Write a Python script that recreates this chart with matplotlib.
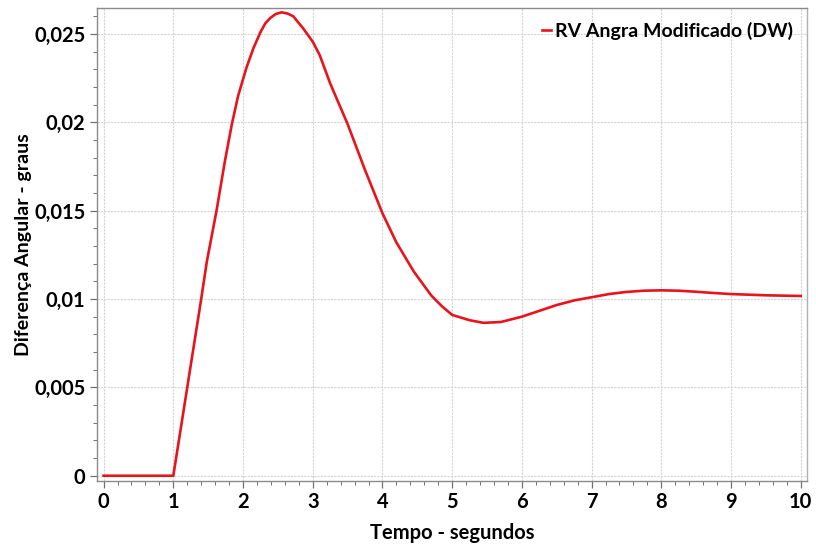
import matplotlib
matplotlib.use('Agg')
import matplotlib.pyplot as plt
from matplotlib.ticker import MultipleLocator, FuncFormatter

# values
tempo = [0.0, 1.0, 1.2, 1.4, 1.48, 1.62, 1.74, 1.84, 1.93, 2.05, 2.15, 2.25,
         2.32, 2.39, 2.47, 2.555, 2.64, 2.72, 2.865, 3.0, 3.1, 3.25, 3.5, 3.75,
         4.0, 4.2, 4.45, 4.7, 4.85, 5.0, 5.25, 5.45, 5.7, 6.0, 6.25, 6.5, 6.75,
         7.0, 7.25, 7.5, 7.75, 8.0, 8.25, 8.5, 8.75, 9.0, 9.5, 10.0]
diferenca = [0.0, 0.0, 0.0050, 0.0100, 0.0121, 0.0150, 0.0178, 0.0199, 0.0215,
             0.0231, 0.0242, 0.0251, 0.0256, 0.0259, 0.02613, 0.02622, 0.02615,
             0.0260, 0.0253, 0.02456, 0.0238, 0.0222, 0.0199, 0.0173, 0.01485,
             0.0132, 0.01155, 0.0102, 0.0096, 0.0091, 0.0088, 0.00865, 0.0087,
             0.0090, 0.00933, 0.00966, 0.00992, 0.0101, 0.01028, 0.0104,
             0.01047, 0.01049, 0.01047, 0.01041, 0.01034, 0.01028, 0.01021,
             0.01017]
serie = 'RV Angra Modificado (DW)'

x_ticks = list(range(0, 11))
y_ticks = [0.0, 0.005, 0.01, 0.015, 0.02, 0.025]

plt.rcParams['font.family'] = ['Lato', 'DejaVu Sans']

fig = plt.figure(figsize=(8.16, 5.46), dpi=100)
ax = fig.add_axes([0.1185, 0.119, 0.8705, 0.8658])

ax.plot(tempo, diferenca, color='#e8141c', lw=1.9, label=serie, zorder=3)

ax.set_xlim(-0.099, 10.09)
ax.set_ylim(-0.0003, 0.02645)
ax.set_xticks(x_ticks)
ax.set_yticks(y_ticks)
ax.xaxis.set_minor_locator(MultipleLocator(0.2))
ax.yaxis.set_minor_locator(MultipleLocator(0.001))


def virgula(v, pos):
    if abs(v) < 1e-12:
        return '0'
    return ('%g' % v).replace('.', ',')


ax.yaxis.set_major_formatter(FuncFormatter(virgula))

ax.grid(True, which='major', color='#d4d4d4', lw=0.8, ls=(0, (2, 1)))
for s in ax.spines.values():
    s.set_color('#8a8a8a')
    s.set_linewidth(1.0)
ax.spines['right'].set_color('#b0b0b0')

ax.tick_params(which='major', length=5, width=0.9, color='#707070',
               labelsize=14.5, pad=3)
ax.tick_params(which='minor', length=3, width=0.7, color='#707070')
for lab in ax.get_xticklabels() + ax.get_yticklabels():
    lab.set_fontweight('bold')

ax.set_xlabel('Tempo - segundos', fontsize=14.5, fontweight='bold', labelpad=8)
ax.set_ylabel('Diferença Angular - graus', fontsize=14, fontweight='bold', labelpad=2)

leg = ax.legend(loc='upper right', frameon=False, handlelength=0.45,
                handletextpad=0.25, borderaxespad=0.3,
                prop={'weight': 'bold', 'size': 14})

fig.savefig('out.png', dpi=100)
